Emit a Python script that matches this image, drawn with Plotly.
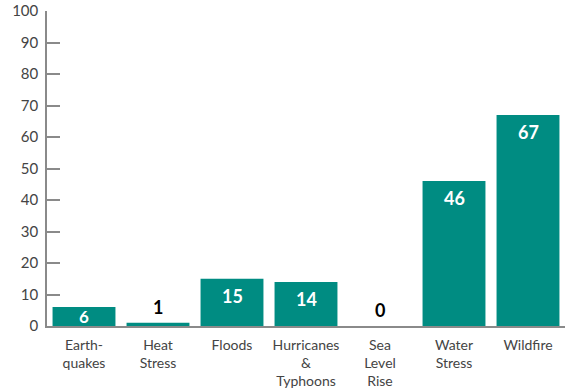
import plotly.graph_objects as go

categories = ["Earth-<br>quakes", "Heat<br>Stress", "Floods", "Hurricanes<br>&<br>Typhoons",
              "Sea<br>Level<br>Rise", "Water<br>Stress", "Wildfire"]
values = [6, 1, 15, 14, 0, 46, 67]
label_inside = [True, False, True, True, False, True, True]
y_ticks = list(range(0, 101, 10))

TEAL = "#008C82"
GRAY = "#8a8a8a"
FONT = "Lato, 'Open Sans', sans-serif"

x_idx = list(range(len(categories)))

fig = go.Figure()
fig.add_trace(go.Bar(x=x_idx, y=values, marker=dict(color=TEAL, line=dict(width=0)),
                     width=0.85, hoverinfo="skip"))

for xi, v, inside in zip(x_idx, values, label_inside):
    if inside and v < 10:
        fig.add_annotation(x=xi, y=v / 2, text=f"<b>{v}</b>", showarrow=False,
                           yanchor="middle", yshift=0,
                           font=dict(family=FONT, size=17, color="white"))
    elif inside:
        fig.add_annotation(x=xi, y=v, text=f"<b>{v}</b>", showarrow=False,
                           yanchor="top", yshift=-4,
                           font=dict(family=FONT, size=18, color="white"))
    else:
        fig.add_annotation(x=xi, y=v, text=f"<b>{v}</b>", showarrow=False,
                           yanchor="bottom", yshift=3,
                           font=dict(family=FONT, size=18, color="black"))

fig.update_layout(
    width=565, height=389,
    margin=dict(l=47, r=0, t=11, b=63),
    paper_bgcolor="white", plot_bgcolor="white",
    showlegend=False,
    font=dict(family=FONT, size=14, color="#444444"),
    xaxis=dict(range=[-0.5, 6.5], tickmode="array", tickvals=x_idx, ticktext=categories,
               showline=True, linecolor=GRAY, linewidth=1.5, ticks="", showgrid=False,
               zeroline=False, ticklabelstandoff=5,
               tickfont=dict(family=FONT, size=14, color="#444444")),
    yaxis=dict(range=[0, 100], tickmode="array", tickvals=y_ticks,
               showline=True, linecolor=GRAY, linewidth=1.5,
               ticks="inside", ticklen=13, tickwidth=1.5, tickcolor=GRAY,
               showgrid=False, zeroline=False, ticklabelstandoff=4,
               tickfont=dict(family=FONT, size=15, color="#444444")),
)

fig.write_html("out.html")
